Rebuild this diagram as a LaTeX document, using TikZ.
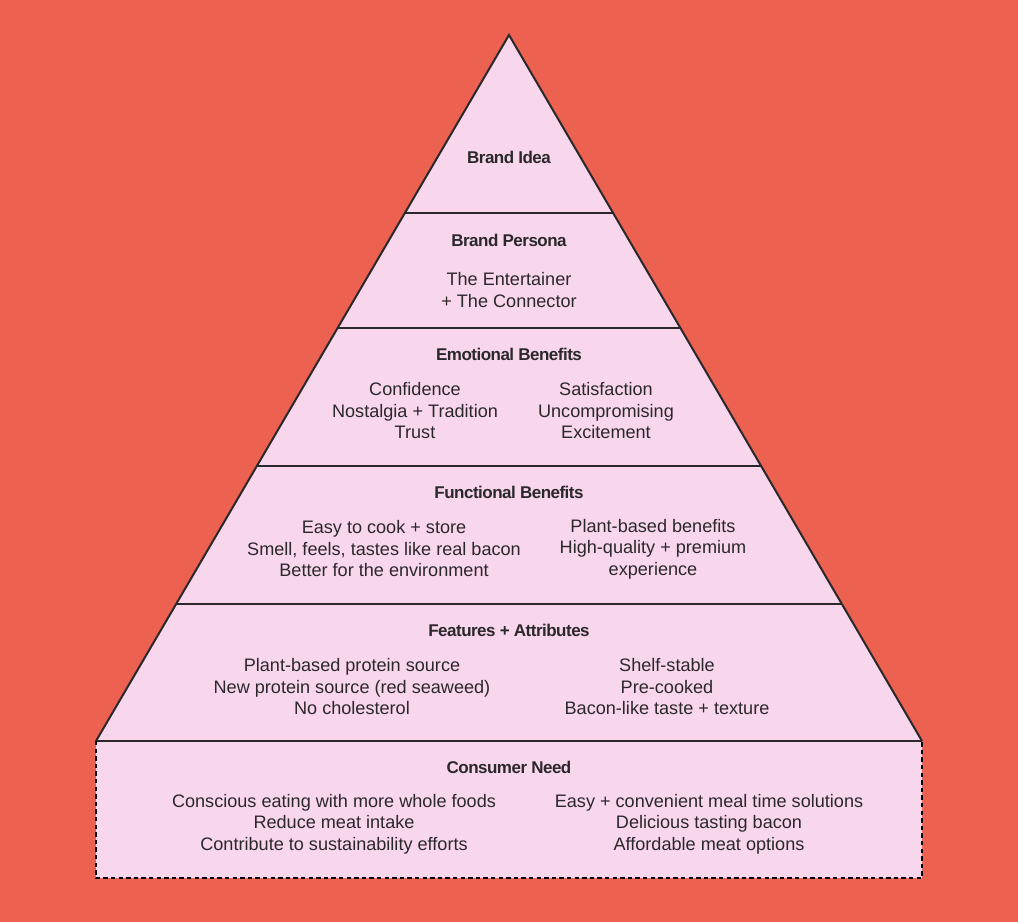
\documentclass[tikz,border=0pt]{standalone}
\usepackage{fontspec}
\setmainfont{Liberation Sans}
\newfontfamily\headfont[LetterSpace=-3]{Liberation Sans}
\usetikzlibrary{calc, positioning}
\definecolor{bgcolor}{RGB}{236,97,79}
\definecolor{pyrcolor}{RGB}{248,214,236}
\definecolor{inkcolor}{RGB}{43,40,44}

\begin{document}
\begin{tikzpicture}[
    x=0.5pt, y=-0.5pt,
    outline/.style={draw=inkcolor, line width=1pt, line join=miter},
    divider/.style={draw=inkcolor, line width=1pt},
    needbox/.style={draw=black, line width=1.4pt, dash pattern=on 2.2pt off 1.6pt},
    heading/.style={font=\headfont\fontsize{8.5}{10}\selectfont\bfseries, text=inkcolor, inner sep=0pt},
    body/.style={font=\fontsize{9.05}{10.75}\selectfont, text=inkcolor, align=center, inner sep=0pt}
]

    % background and page size
    \fill[bgcolor] (0,0) rectangle (1018,922);
    \useasboundingbox (0,0) rectangle (1018,922);

    % pyramid corners
    \coordinate (apex) at (509,35);
    \coordinate (bl) at (96,741);
    \coordinate (br) at (922,741);
    \coordinate (nbl) at (96,878);
    \coordinate (nbr) at (922,878);

    % pyramid and consumer need box
    \fill[pyrcolor] (apex) -- (br) -- (nbr) -- (nbl) -- (bl) -- cycle;
    \draw[outline] (bl) -- (apex) -- (br);
    \draw[divider] (bl) -- (br);
    \draw[needbox] (bl) -- (nbl) -- (nbr) -- (br);

    % layer dividers
    \foreach \t in {0.2521, 0.4150, 0.6105, 0.8059}
        \draw[divider] ($(apex)!\t!(bl)$) -- ($(apex)!\t!(br)$);

    % Brand Idea
    \node[heading] (ideahead) at (509,157) {Brand Idea};

    % Brand Persona
    \node[heading] (personahead) at (509,240) {Brand Persona};
    \node[body] (persona) at (509,290) {The Entertainer\\+ The Connector};

    % Emotional Benefits
    \node[heading] (emohead) at (509,354) {Emotional Benefits};
    \node[body] (emoleft) at (415,411) {Confidence\\Nostalgia + Tradition\\Trust};
    \node[body] (emoright) at (606,411) {Satisfaction\\Uncompromising\\Excitement};

    % Functional Benefits
    \node[heading] (funchead) at (509,492) {Functional Benefits};
    \node[body] (funcleft) at (384,549) {Easy to cook + store\\Smell, feels, tastes like real bacon\\Better for the environment};
    \node[body] (funcright) at (653,549) {Plant-based benefits\\High-quality + premium\\experience};

    % Features + Attributes
    \node[heading] (feathead) at (509,630) {Features + Attributes};
    \node[body] (featleft) at (352,687) {Plant-based protein source\\New protein source (red seaweed)\\No cholesterol};
    \node[body] (featright) at (667,687) {Shelf-stable\\Pre-cooked\\Bacon-like taste + texture};

    % Consumer Need
    \node[heading] (needhead) at (509,767) {Consumer Need};
    \node[body] (needleft) at (334,824) {Conscious eating with more whole foods\\Reduce meat intake\\Contribute to sustainability efforts};
    \node[body] (needright) at (709,824) {Easy + convenient meal time solutions\\Delicious tasting bacon\\Affordable meat options};

\end{tikzpicture}
\end{document}
